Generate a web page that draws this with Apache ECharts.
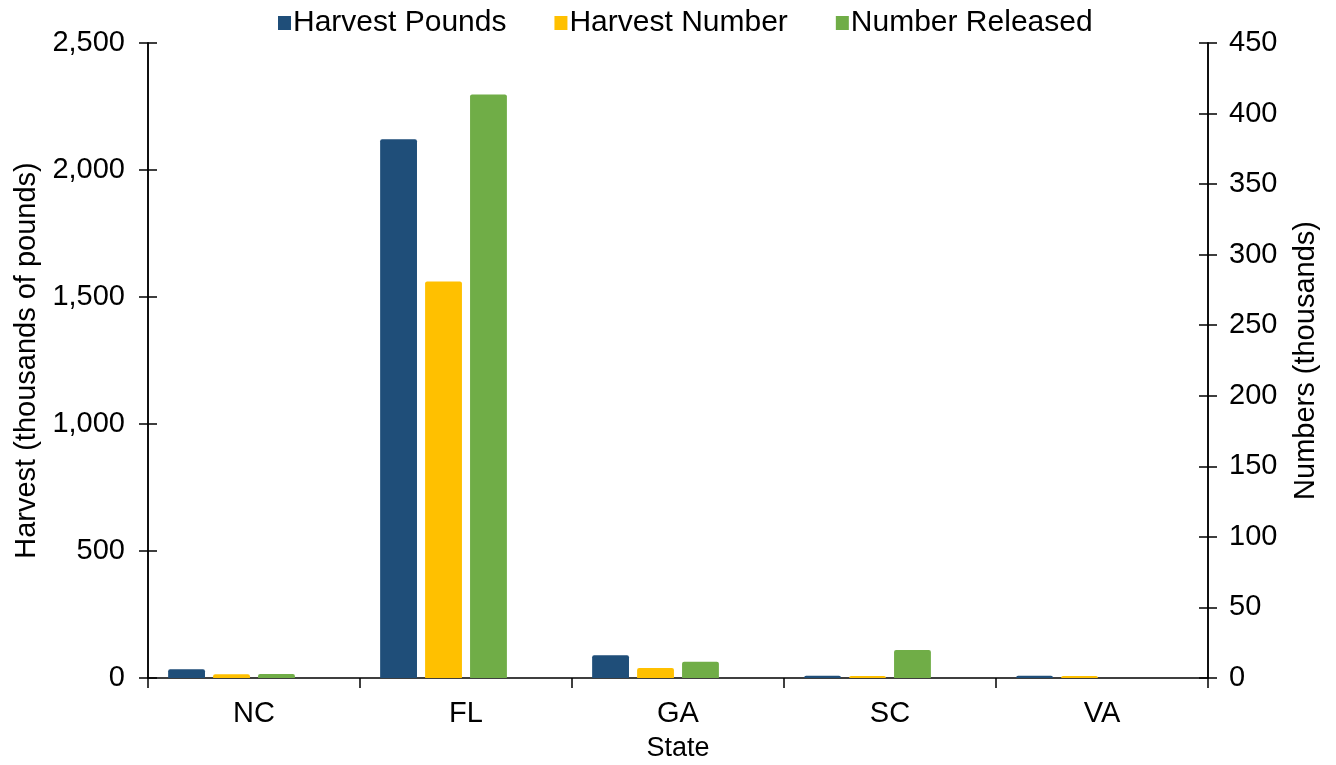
<!DOCTYPE html>
<html>
<head>
<meta charset="utf-8">
<script src="https://cdn.jsdelivr.net/npm/echarts@6/dist/echarts.min.js"></script>
<style>
  html, body { margin: 0; padding: 0; background: #fff; }
  #chart { width: 1336px; height: 765px; }
</style>
</head>
<body>
<div id="chart"></div>
<script>
// values
var states = ["NC", "FL", "GA", "SC", "VA"];
var harvestPounds = [34, 2121, 90, 9, 9];      // thousands of pounds, left axis
var harvestNumber = [2.6, 281, 7, 1.4, 1.4];   // thousands, right axis
var numberReleased = [2.8, 413.5, 11.6, 19.8, 0]; // thousands, right axis
var emptySlot = [null, null, null, null, null]; // Excel leaves a 4th empty slot per category

var font = "Liberation Sans";
var axisLine = { show: true, lineStyle: { color: "#000", width: 1.5 } };
var tick = function (inside) {
  return { show: true, inside: inside, length: 9, lineStyle: { color: "#000", width: 1.5 } };
};
// extra tick-only axes so the y ticks cross the axis line like Excel's
var tickOnly = function (pos, max, interval) {
  return {
    type: "value", min: 0, max: max, interval: interval, position: pos,
    axisLine: axisLine, axisTick: tick(true),
    axisLabel: { show: false }, splitLine: { show: false }
  };
};

var myChart = echarts.init(document.getElementById("chart"));
myChart.setOption({
  animation: false,
  textStyle: { fontFamily: font, color: "#000" },
  legend: {
    data: ["Harvest Pounds", "Harvest Number", "Number Released"],
    top: 3,
    left: 273,
    itemWidth: 13,
    itemHeight: 14,
    itemGap: 48,
    icon: "rect",
    textStyle: { fontSize: 30, color: "#000", fontFamily: font, padding: [0, 0, 0, -3] }
  },
  grid: { left: 148, right: 128, top: 43, bottom: 87, outerBoundsMode: "none" },
  xAxis: {
    type: "category",
    data: states,
    name: "State",
    nameLocation: "middle",
    nameGap: 57,
    nameTextStyle: { fontSize: 27, color: "#000" },
    axisLine: axisLine,
    axisTick: { show: true, length: 10, lineStyle: { color: "#000", width: 1.5 } },
    axisLabel: { fontSize: 29, color: "#000", margin: 21 }
  },
  yAxis: [
    {
      type: "value",
      min: 0,
      max: 2500,
      interval: 500,
      name: "Harvest (thousands of pounds)",
      nameLocation: "middle",
      nameGap: 106,
      nameTextStyle: { fontSize: 29, color: "#000" },
      axisLine: axisLine,
      axisTick: tick(false),
      splitLine: { show: false },
      axisLabel: {
        fontSize: 29,
        color: "#000",
        margin: 23,
        formatter: function (v) { return v.toLocaleString("en-US"); }
      }
    },
    {
      type: "value",
      min: 0,
      max: 450,
      interval: 50,
      position: "right",
      name: "Numbers (thousands)",
      nameLocation: "middle",
      nameGap: 83,
      nameRotate: 90,
      nameTextStyle: { fontSize: 29, color: "#000" },
      axisLine: axisLine,
      axisTick: tick(false),
      splitLine: { show: false },
      axisLabel: { fontSize: 29, color: "#000", margin: 21 }
    },
    tickOnly("left", 2500, 500),
    tickOnly("right", 450, 50)
  ],
  series: [
    {
      name: "Harvest Pounds",
      type: "bar",
      yAxisIndex: 0,
      data: harvestPounds,
      barGap: "22%",
      barCategoryGap: "19%",
      itemStyle: { color: "#1F4E79", borderRadius: [2, 2, 0, 0] }
    },
    {
      name: "Harvest Number",
      type: "bar",
      yAxisIndex: 1,
      data: harvestNumber,
      itemStyle: { color: "#FFC000", borderRadius: [2, 2, 0, 0] }
    },
    {
      name: "Number Released",
      type: "bar",
      yAxisIndex: 1,
      data: numberReleased,
      itemStyle: { color: "#70AD47", borderRadius: [2, 2, 0, 0] }
    },
    {
      name: "",
      type: "bar",
      yAxisIndex: 1,
      data: emptySlot,
      silent: true
    }
  ]
});
</script>
</body>
</html>
